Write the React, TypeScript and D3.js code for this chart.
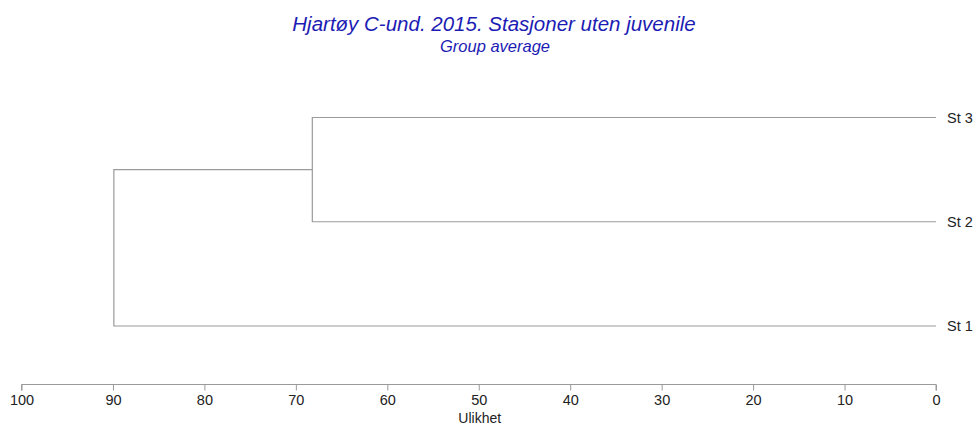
import React, { useEffect, useRef } from 'react';
import * as d3 from 'd3';

const leafOrder = ['St 3', 'St 2', 'St 1'];
const mergeLeft = ['St 3', 'A'];
const mergeRight = ['St 2', 'St 1'];
const mergeNames = ['A', 'B'];
const mergeHeights = [68.2, 89.9];
const xTicks = [100, 90, 80, 70, 60, 50, 40, 30, 20, 10, 0];

const WIDTH = 977;
const HEIGHT = 428;

const App: React.FC = () => {
  const svgRef = useRef<SVGSVGElement>(null);

  useEffect(() => {
    if (!svgRef.current) return;
    const svg = d3.select(svgRef.current);
    svg.selectAll('*').remove();

    const xScale = d3.scaleLinear().domain([100, 0]).range([21.5, 936]);
    const yScale = d3.scalePoint<string>().domain(leafOrder).range([117.5, 326]);

    const lineColor = '#9a9a9a';
    const font = 'Arial, "Liberation Sans", sans-serif';

    // node positions: leaves sit at distance 0
    const pos: Record<string, { x: number; y: number }> = {};
    leafOrder.forEach((l) => {
      pos[l] = { x: xScale(0), y: yScale(l) as number };
    });

    const g = svg.append('g');

    mergeNames.forEach((name, i) => {
      const a = pos[mergeLeft[i]];
      const b = pos[mergeRight[i]];
      const x = xScale(mergeHeights[i]);
      const path = d3.path();
      path.moveTo(a.x, a.y);
      path.lineTo(x, a.y);
      path.lineTo(x, b.y);
      path.lineTo(b.x, b.y);
      g.append('path')
        .attr('d', path.toString())
        .attr('fill', 'none')
        .attr('stroke', lineColor)
        .attr('stroke-width', 1.2);
      pos[name] = { x, y: (a.y + b.y) / 2 };
    });

    leafOrder.forEach((l) => {
      svg.append('text')
        .attr('x', 947)
        .attr('y', (yScale(l) as number) + 5)
        .attr('font-family', font)
        .style('font-size', '14.5px')
        .style('fill', '#222')
        .text(l);
    });

    svg.append('g')
      .attr('transform', 'translate(0,384.5)')
      .call(d3.axisBottom(xScale).tickValues(xTicks).tickSize(6).tickPadding(4).tickFormat(d3.format('d')))
      .call((g: any) => g.selectAll('text').attr('fill', '#222').attr('font-size', '14.5px').attr('font-family', font))
      .call((g: any) => g.selectAll('line').attr('stroke', lineColor))
      .call((g: any) => g.select('.domain').attr('stroke', lineColor).attr('d', `M${xScale(100)},6V0H${xScale(0)}V6`));

    svg.append('text')
      .attr('x', xScale(50) + 1)
      .attr('y', 423)
      .attr('text-anchor', 'middle')
      .attr('font-family', font)
      .style('font-size', '14px')
      .style('fill', '#222')
      .text('Ulikhet');

    svg.append('text')
      .attr('x', 494)
      .attr('y', 31)
      .attr('text-anchor', 'middle')
      .attr('font-family', font)
      .style('font-size', '20.5px')
      .style('font-style', 'italic')
      .style('fill', '#1c1cb4')
      .text('Hjartøy C-und. 2015. Stasjoner uten juvenile');

    svg.append('text')
      .attr('x', 495)
      .attr('y', 52)
      .attr('text-anchor', 'middle')
      .attr('font-family', font)
      .style('font-size', '16.5px')
      .style('font-style', 'italic')
      .style('fill', '#1c1cb4')
      .text('Group average');
  }, []);

  return (
    <svg
      ref={svgRef}
      width={WIDTH}
      height={HEIGHT}
      style={{ position: 'absolute', left: 0, top: 0, background: '#fff', display: 'block' }}
    />
  );
};

export default App;
